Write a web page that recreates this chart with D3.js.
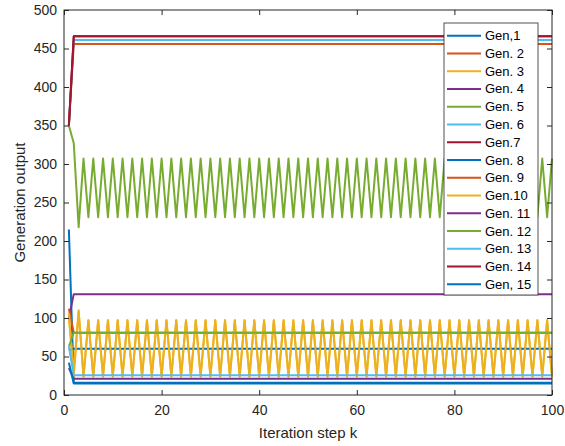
<!DOCTYPE html>
<html>
<head>
<meta charset="utf-8">
<script src="https://cdn.jsdelivr.net/npm/d3@7.9.0/dist/d3.min.js"></script>
<style>
  html, body { margin: 0; padding: 0; background: #fff; }
  svg { display: block; font-family: "Liberation Sans", Arial, Helvetica, sans-serif; }
  .axis text { fill: #262626; font-size: 14px; }
  .axis path, .axis line { stroke: #262626; }
</style>
</head>
<body>
<svg id="chart" width="565" height="446"></svg>
<script>
// --- data (k = 1..100) ---
const steps = d3.range(1, 101);

const gen1 = [215,16,16,16,16,16,16,16,16,16,16,16,16,16,16,16,16,16,16,16,
  16,16,16,16,16,16,16,16,16,16,16,16,16,16,16,16,16,16,16,16,
  16,16,16,16,16,16,16,16,16,16,16,16,16,16,16,16,16,16,16,16,
  16,16,16,16,16,16,16,16,16,16,16,16,16,16,16,16,16,16,16,16,
  16,16,16,16,16,16,16,16,16,16,16,16,16,16,16,16,16,16,16,16];
const gen2 = [350,456,456,456,456,456,456,456,456,456,456,456,456,456,456,456,456,456,456,456,
  456,456,456,456,456,456,456,456,456,456,456,456,456,456,456,456,456,456,456,456,
  456,456,456,456,456,456,456,456,456,456,456,456,456,456,456,456,456,456,456,456,
  456,456,456,456,456,456,456,456,456,456,456,456,456,456,456,456,456,456,456,456,
  456,456,456,456,456,456,456,456,456,456,456,456,456,456,456,456,456,456,456,456];
const gen3 = [100,30,110,24,97,24,97,24,97,24,97,24,97,24,97,24,97,24,97,24,
  97,24,97,24,97,24,97,24,97,24,97,24,97,24,97,24,97,24,97,24,
  97,24,97,24,97,24,97,24,97,24,97,24,97,24,97,24,97,24,97,24,
  97,24,97,24,97,24,97,24,97,24,97,24,97,24,97,24,97,24,97,24,
  97,24,97,24,97,24,97,24,97,24,97,24,97,24,97,24,97,24,97,24];
const gen4 = [100,131,131,131,131,131,131,131,131,131,131,131,131,131,131,131,131,131,131,131,
  131,131,131,131,131,131,131,131,131,131,131,131,131,131,131,131,131,131,131,131,
  131,131,131,131,131,131,131,131,131,131,131,131,131,131,131,131,131,131,131,131,
  131,131,131,131,131,131,131,131,131,131,131,131,131,131,131,131,131,131,131,131,
  131,131,131,131,131,131,131,131,131,131,131,131,131,131,131,131,131,131,131,131];
const gen5 = [350,327,218,307,231,307,231,307,231,307,231,307,231,307,231,307,231,307,231,307,
  231,307,231,307,231,307,231,307,231,307,231,307,231,307,231,307,231,307,231,307,
  231,307,231,307,231,307,231,307,231,307,231,307,231,307,231,307,231,307,231,307,
  231,307,231,307,231,307,231,307,231,307,231,307,231,307,231,307,231,307,231,307,
  231,307,231,307,231,307,231,307,231,307,231,307,231,307,231,307,231,307,231,307];
const gen6 = [350,461,461,461,461,461,461,461,461,461,461,461,461,461,461,461,461,461,461,461,
  461,461,461,461,461,461,461,461,461,461,461,461,461,461,461,461,461,461,461,461,
  461,461,461,461,461,461,461,461,461,461,461,461,461,461,461,461,461,461,461,461,
  461,461,461,461,461,461,461,461,461,461,461,461,461,461,461,461,461,461,461,461,
  461,461,461,461,461,461,461,461,461,461,461,461,461,461,461,461,461,461,461,461];
const gen7 = [350,466,466,466,466,466,466,466,466,466,466,466,466,466,466,466,466,466,466,466,
  466,466,466,466,466,466,466,466,466,466,466,466,466,466,466,466,466,466,466,466,
  466,466,466,466,466,466,466,466,466,466,466,466,466,466,466,466,466,466,466,466,
  466,466,466,466,466,466,466,466,466,466,466,466,466,466,466,466,466,466,466,466,
  466,466,466,466,466,466,466,466,466,466,466,466,466,466,466,466,466,466,466,466];
const gen8 = [58,60,60,60,60,60,60,60,60,60,60,60,60,60,60,60,60,60,60,60,
  60,60,60,60,60,60,60,60,60,60,60,60,60,60,60,60,60,60,60,60,
  60,60,60,60,60,60,60,60,60,60,60,60,60,60,60,60,60,60,60,60,
  60,60,60,60,60,60,60,60,60,60,60,60,60,60,60,60,60,60,60,60,
  60,60,60,60,60,60,60,60,60,60,60,60,60,60,60,60,60,60,60,60];
const gen9 = [112,81,81,81,81,81,81,81,81,81,81,81,81,81,81,81,81,81,81,81,
  81,81,81,81,81,81,81,81,81,81,81,81,81,81,81,81,81,81,81,81,
  81,81,81,81,81,81,81,81,81,81,81,81,81,81,81,81,81,81,81,81,
  81,81,81,81,81,81,81,81,81,81,81,81,81,81,81,81,81,81,81,81,
  81,81,81,81,81,81,81,81,81,81,81,81,81,81,81,81,81,81,81,81];
const gen10 = [106,24,108,24,97,24,97,24,97,24,97,24,97,24,97,24,97,24,97,24,
  97,24,97,24,97,24,97,24,97,24,97,24,97,24,97,24,97,24,97,24,
  97,24,97,24,97,24,97,24,97,24,97,24,97,24,97,24,97,24,97,24,
  97,24,97,24,97,24,97,24,97,24,97,24,97,24,97,24,97,24,97,24,
  97,24,97,24,97,24,97,24,97,24,97,24,97,24,97,24,97,24,97,24];
const gen11 = [35,21,21,21,21,21,21,21,21,21,21,21,21,21,21,21,21,21,21,21,
  21,21,21,21,21,21,21,21,21,21,21,21,21,21,21,21,21,21,21,21,
  21,21,21,21,21,21,21,21,21,21,21,21,21,21,21,21,21,21,21,21,
  21,21,21,21,21,21,21,21,21,21,21,21,21,21,21,21,21,21,21,21,
  21,21,21,21,21,21,21,21,21,21,21,21,21,21,21,21,21,21,21,21];
const gen12 = [63,81,81,81,81,81,81,81,81,81,81,81,81,81,81,81,81,81,81,81,
  81,81,81,81,81,81,81,81,81,81,81,81,81,81,81,81,81,81,81,81,
  81,81,81,81,81,81,81,81,81,81,81,81,81,81,81,81,81,81,81,81,
  81,81,81,81,81,81,81,81,81,81,81,81,81,81,81,81,81,81,81,81,
  81,81,81,81,81,81,81,81,81,81,81,81,81,81,81,81,81,81,81,81];
const gen13 = [63,25.5,25.5,25.5,25.5,25.5,25.5,25.5,25.5,25.5,25.5,25.5,25.5,25.5,25.5,25.5,25.5,25.5,25.5,25.5,
  25.5,25.5,25.5,25.5,25.5,25.5,25.5,25.5,25.5,25.5,25.5,25.5,25.5,25.5,25.5,25.5,25.5,25.5,25.5,25.5,
  25.5,25.5,25.5,25.5,25.5,25.5,25.5,25.5,25.5,25.5,25.5,25.5,25.5,25.5,25.5,25.5,25.5,25.5,25.5,25.5,
  25.5,25.5,25.5,25.5,25.5,25.5,25.5,25.5,25.5,25.5,25.5,25.5,25.5,25.5,25.5,25.5,25.5,25.5,25.5,25.5,
  25.5,25.5,25.5,25.5,25.5,25.5,25.5,25.5,25.5,25.5,25.5,25.5,25.5,25.5,25.5,25.5,25.5,25.5,25.5,25.5];
const gen14 = [350,466,466,466,466,466,466,466,466,466,466,466,466,466,466,466,466,466,466,466,
  466,466,466,466,466,466,466,466,466,466,466,466,466,466,466,466,466,466,466,466,
  466,466,466,466,466,466,466,466,466,466,466,466,466,466,466,466,466,466,466,466,
  466,466,466,466,466,466,466,466,466,466,466,466,466,466,466,466,466,466,466,466,
  466,466,466,466,466,466,466,466,466,466,466,466,466,466,466,466,466,466,466,466];
const gen15 = [42,15,15,15,15,15,15,15,15,15,15,15,15,15,15,15,15,15,15,15,
  15,15,15,15,15,15,15,15,15,15,15,15,15,15,15,15,15,15,15,15,
  15,15,15,15,15,15,15,15,15,15,15,15,15,15,15,15,15,15,15,15,
  15,15,15,15,15,15,15,15,15,15,15,15,15,15,15,15,15,15,15,15,
  15,15,15,15,15,15,15,15,15,15,15,15,15,15,15,15,15,15,15,15];

const seriesNames = ["Gen,1", "Gen. 2", "Gen. 3", "Gen. 4", "Gen. 5", "Gen. 6", "Gen.7",
  "Gen. 8", "Gen. 9", "Gen.10", "Gen. 11", "Gen. 12", "Gen. 13", "Gen. 14", "Gen, 15"];
const seriesValues = [gen1, gen2, gen3, gen4, gen5, gen6, gen7, gen8,
  gen9, gen10, gen11, gen12, gen13, gen14, gen15];
const xTicks = [0, 20, 40, 60, 80, 100];
const yTicks = [0, 50, 100, 150, 200, 250, 300, 350, 400, 450, 500];

// matlab default colour order
const colors = ["#0072BD", "#D95319", "#EDB120", "#7E2F8E", "#77AC30", "#4DBEEE", "#A2142F"];

const svg = d3.select("#chart");
const plot = { left: 64, right: 552, top: 10, bottom: 395 };

const x = d3.scaleLinear().domain([0, 100]).range([plot.left, plot.right]);
const y = d3.scaleLinear().domain([0, 500]).range([plot.bottom, plot.top]);

// lines
const line = d3.line()
  .x((d, i) => x(steps[i]))
  .y((d) => y(d));

svg.append("g")
  .selectAll("path")
  .data(seriesValues)
  .join("path")
  .attr("d", line)
  .attr("fill", "none")
  .attr("stroke", (_, i) => colors[i % colors.length])
  .attr("stroke-width", 2)
  .attr("stroke-linejoin", "round");

// axes (ticks pointing inward, box on)
const tick = 5;
svg.append("g").attr("class", "axis")
  .attr("transform", `translate(0,${plot.bottom})`)
  .call(d3.axisBottom(x).tickValues(xTicks).tickSizeInner(-tick).tickSizeOuter(0).tickPadding(10));
svg.append("g").attr("class", "axis")
  .attr("transform", `translate(${plot.left},0)`)
  .call(d3.axisLeft(y).tickValues(yTicks).tickSizeInner(-tick).tickSizeOuter(0).tickPadding(7));
svg.append("g").attr("class", "axis")
  .attr("transform", `translate(0,${plot.top})`)
  .call(d3.axisTop(x).tickValues(xTicks).tickSizeInner(-tick).tickSizeOuter(0).tickFormat(""));
svg.append("g").attr("class", "axis")
  .attr("transform", `translate(${plot.right},0)`)
  .call(d3.axisRight(y).tickValues(yTicks).tickSizeInner(-tick).tickSizeOuter(0).tickFormat(""));

svg.selectAll(".axis .domain").remove();
svg.append("rect")
  .attr("x", plot.left).attr("y", plot.top)
  .attr("width", plot.right - plot.left).attr("height", plot.bottom - plot.top)
  .attr("fill", "none").attr("stroke", "#262626").attr("stroke-width", 1);

// axis titles
svg.append("text")
  .attr("x", (plot.left + plot.right) / 2).attr("y", 438)
  .attr("text-anchor", "middle")
  .attr("fill", "#262626").style("font-size", "15px")
  .text("Iteration step k");
svg.append("text")
  .attr("transform", `translate(19,${(plot.top + plot.bottom) / 2}) rotate(-90)`)
  .attr("text-anchor", "middle")
  .attr("dominant-baseline", "central")
  .attr("fill", "#262626").style("font-size", "15px")
  .text("Generation output");

// legend
const lg = { x: 444, y: 23, w: 94, h: 272, row: 17.76, first: 12.7 };
const legend = svg.append("g").attr("transform", `translate(${lg.x},${lg.y})`);
legend.append("rect")
  .attr("width", lg.w).attr("height", lg.h)
  .attr("fill", "#fff").attr("stroke", "#262626").attr("stroke-width", 0.8);
const items = legend.selectAll("g.item")
  .data(seriesNames)
  .join("g")
  .attr("class", "item")
  .attr("transform", (_, i) => `translate(0,${lg.first + i * lg.row})`);
items.append("line")
  .attr("x1", 3).attr("x2", 37)
  .attr("stroke", (_, i) => colors[i % colors.length])
  .attr("stroke-width", 2);
items.append("text")
  .attr("x", 41)
  .attr("dominant-baseline", "central")
  .attr("fill", "#000").style("font-size", "13px")
  .text((d) => d);
</script>
</body>
</html>
